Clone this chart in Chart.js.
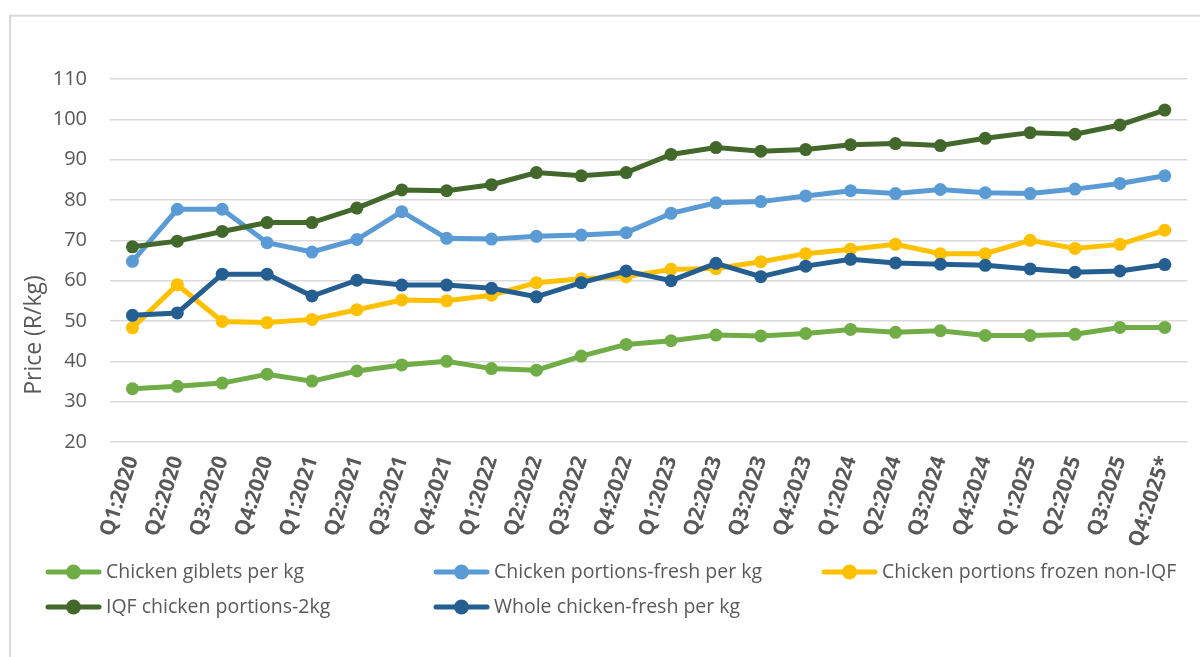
<!DOCTYPE html>
<html>
<head>
<meta charset="utf-8">
<script src="https://cdn.jsdelivr.net/npm/chart.js@4/dist/chart.umd.min.js"></script>
<style>
  html, body { margin: 0; padding: 0; background: #ffffff; }
  #wrap { position: relative; width: 1200px; height: 657px; }
  canvas { display: block; }
</style>
</head>
<body>
<div id="wrap"><canvas id="c" width="1200" height="657"></canvas></div>
<script>
const categories = ["Q1:2020","Q2:2020","Q3:2020","Q4:2020","Q1:2021","Q2:2021","Q3:2021","Q4:2021",
  "Q1:2022","Q2:2022","Q3:2022","Q4:2022","Q1:2023","Q2:2023","Q3:2023","Q4:2023",
  "Q1:2024","Q2:2024","Q3:2024","Q4:2024","Q1:2025","Q2:2025","Q3:2025","Q4:2025*"];

const seriesNames = ["Chicken giblets per kg","Chicken portions-fresh per kg","Chicken portions frozen non-IQF","IQF chicken portions-2kg","Whole chicken-fresh per kg"];

const giblets = [33.2,33.8,34.6,36.8,35.1,37.6,39.1,40.0,38.2,37.8,41.3,44.2,45.1,46.5,46.3,46.9,47.9,47.2,47.6,46.4,46.4,46.7,48.4,48.4];
const portionsFresh = [64.8,77.7,77.7,69.4,67.1,70.2,77.1,70.5,70.3,71.0,71.3,71.9,76.7,79.3,79.6,81.0,82.3,81.6,82.6,81.8,81.6,82.7,84.1,86.0];
const portionsFrozen = [48.3,59.0,49.9,49.6,50.4,52.8,55.2,55.0,56.4,59.5,60.5,61.0,62.8,63.0,64.7,66.7,67.8,69.0,66.7,66.7,70.0,68.0,69.0,72.5];
const iqfPortions = [68.4,69.8,72.2,74.4,74.4,78.0,82.5,82.3,83.8,86.8,86.0,86.8,91.3,93.0,92.1,92.5,93.7,94.0,93.5,95.3,96.7,96.3,98.6,102.3];
const wholeFresh = [51.4,52.0,61.6,61.6,56.2,60.1,58.9,58.9,58.1,56.0,59.5,62.4,60.0,64.3,61.0,63.6,65.3,64.4,64.1,63.8,62.9,62.1,62.4,64.0];

const colors = ["#70AD47","#5B9BD5","#FFC000","#43682B","#255E91"];
const allValues = [giblets, portionsFresh, portionsFrozen, iqfPortions, wholeFresh];

const FONT = "'Open Sans', 'Liberation Sans', sans-serif";
const TEXT = "#595959";

const datasets = allValues.map((vals, i) => ({
  label: seriesNames[i],
  data: vals,
  borderColor: colors[i],
  backgroundColor: colors[i],
  pointBackgroundColor: colors[i],
  pointBorderColor: colors[i],
  borderWidth: 5,
  pointRadius: 6.5,
  pointBorderWidth: 0,
  tension: 0,
  order: 5 - i
}));

const decorPlugin = {
  id: 'decor',
  beforeDraw(chart) {
    const ctx = chart.ctx;
    ctx.save();
    ctx.fillStyle = '#ffffff';
    ctx.fillRect(0, 0, chart.width, chart.height);
    ctx.strokeStyle = '#d9d9d9';
    ctx.lineWidth = 2;
    ctx.strokeRect(10, 15.7, 1300, 800);
    // y axis title
    ctx.translate(34, 335);
    ctx.rotate(-Math.PI / 2);
    ctx.fillStyle = TEXT;
    ctx.font = "23px " + FONT;
    ctx.textAlign = 'center';
    ctx.textBaseline = 'middle';
    ctx.fillText("Price (R/kg)", 0, 0);
    ctx.restore();
  },
  afterDraw(chart) {
    const ctx = chart.ctx;
    const cols = [46, 434, 822];
    const rows = [572, 607];
    ctx.save();
    chart.data.datasets.forEach((ds, i) => {
      const x = cols[i % 3];
      const y = rows[Math.floor(i / 3)];
      ctx.strokeStyle = ds.borderColor;
      ctx.lineWidth = 5;
      ctx.lineCap = 'round';
      ctx.beginPath();
      ctx.moveTo(x + 2, y);
      ctx.lineTo(x + 53, y);
      ctx.stroke();
      ctx.fillStyle = ds.borderColor;
      ctx.beginPath();
      ctx.arc(x + 27.5, y, 7.5, 0, Math.PI * 2);
      ctx.fill();
      ctx.fillStyle = TEXT;
      ctx.font = "19.5px " + FONT;
      ctx.textAlign = 'left';
      ctx.textBaseline = 'middle';
      ctx.fillText(ds.label, x + 60, y);
    });
    ctx.restore();
  }
};

new Chart(document.getElementById('c'), {
  type: 'line',
  data: { labels: categories, datasets },
  plugins: [decorPlugin],
  options: {
    responsive: false,
    animation: false,
    devicePixelRatio: 1,
    layout: { padding: { top: 79, right: 12, left: 0, bottom: 0 } },
    plugins: { legend: { display: false }, tooltip: { enabled: false }, title: { display: false } },
    scales: {
      x: {
        type: 'category',
        offset: true,
        grid: { display: false, drawTicks: false },
        border: { display: false },
        ticks: {
          autoSkip: false,
          minRotation: 72,
          maxRotation: 72,
          padding: 11,
          color: TEXT,
          font: { family: FONT, size: 21, weight: 'bold' }
        },
        afterFit(scale) { scale.height = 215; }
      },
      y: {
        min: 20,
        max: 110,
        grid: { color: '#d9d9d9', lineWidth: 1.6, drawTicks: false },
        border: { display: false },
        ticks: {
          stepSize: 10,
          padding: 23,
          color: TEXT,
          font: { family: FONT, size: 20 }
        },
        afterFit(scale) { scale.width = 110; }
      }
    }
  }
});
</script>
</body>
</html>
